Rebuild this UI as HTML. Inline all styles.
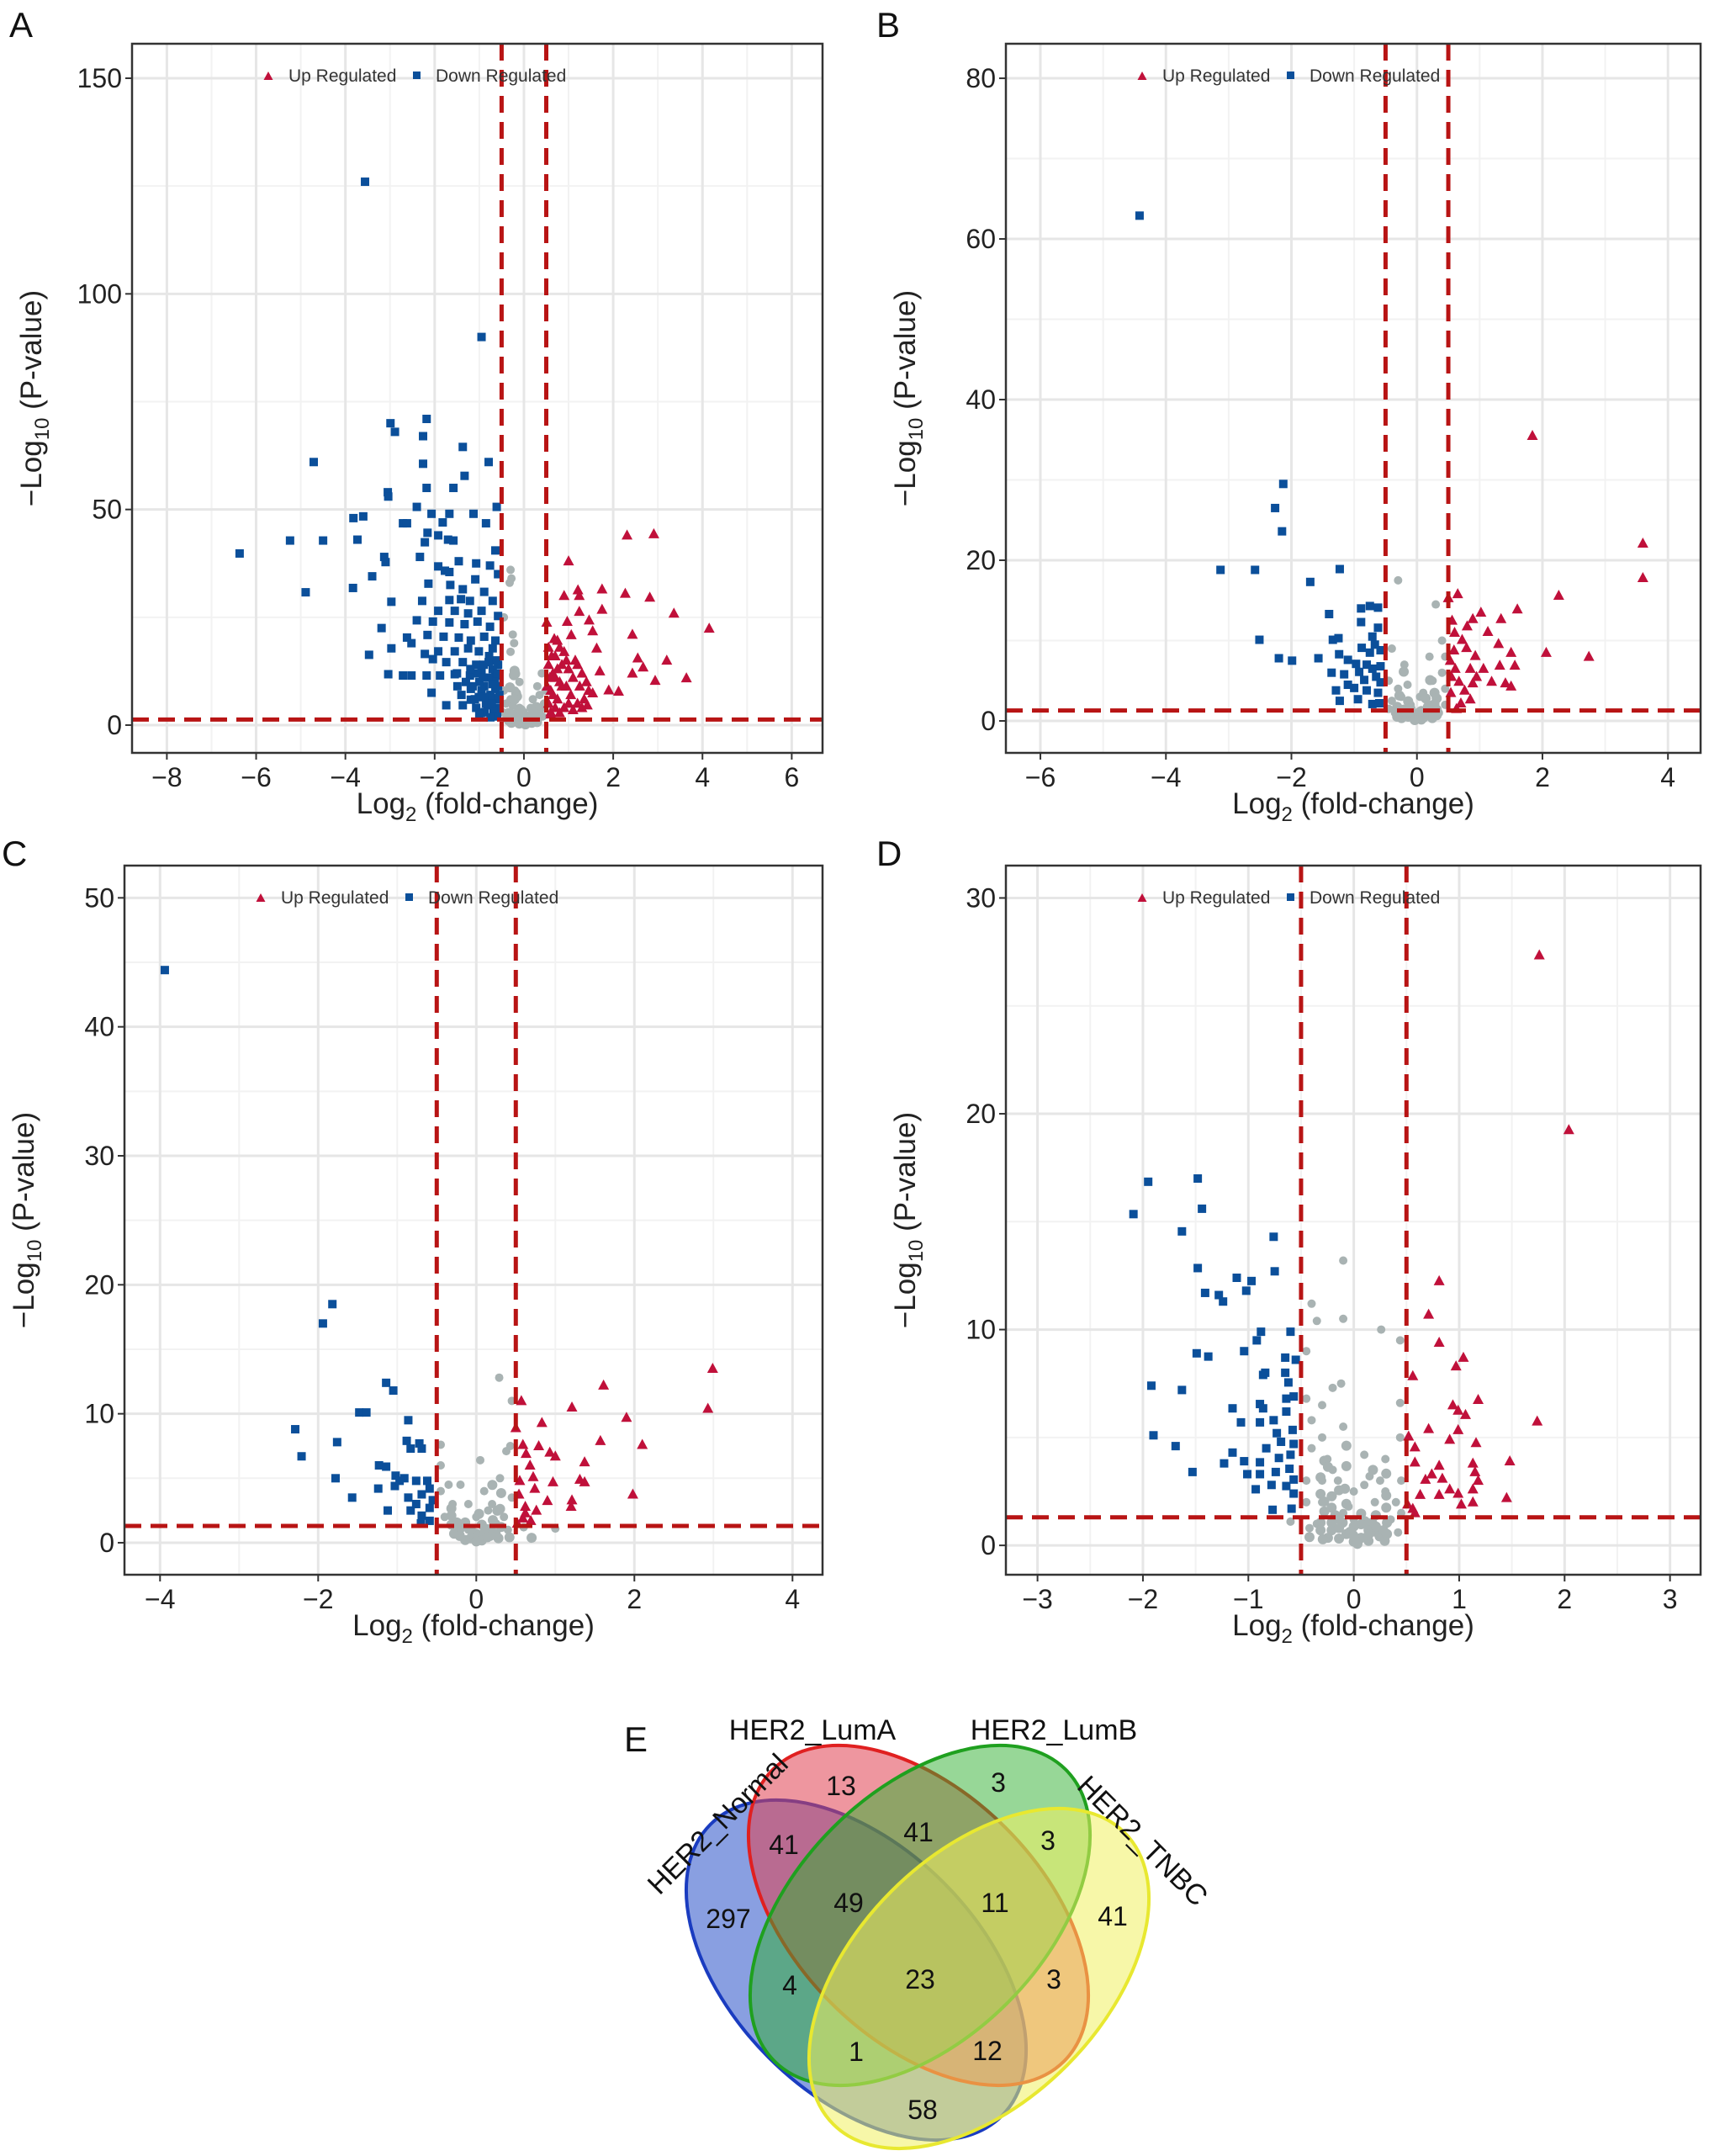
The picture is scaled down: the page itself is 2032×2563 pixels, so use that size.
<!DOCTYPE html>
<html><head><meta charset="utf-8"><style>
html,body{margin:0;padding:0;background:#fff}
svg{display:block;font-family:"Liberation Sans",Arial,sans-serif}
</style></head><body>
<svg id="fig" width="2032" height="2563" viewBox="0 0 2032 2563" xmlns="http://www.w3.org/2000/svg">
<rect width="2032" height="2563" fill="#fff"/>
<g id="venn">
  <text x="742" y="2082" font-size="42" fill="#111">E</text>
  <ellipse cx="1018" cy="2342" rx="245" ry="147" transform="rotate(45 1018 2342)" fill="#3a5fcd" fill-opacity="0.6" stroke="#1a3cc0" stroke-width="4"/>
  <ellipse cx="1092" cy="2277" rx="245" ry="147" transform="rotate(45 1092 2277)" fill="#e04050" fill-opacity="0.55" stroke="#e02020" stroke-width="4"/>
  <ellipse cx="1094" cy="2277" rx="245" ry="147" transform="rotate(-45 1094 2277)" fill="#30b030" fill-opacity="0.5" stroke="#1fa01f" stroke-width="4"/>
  <ellipse cx="1164" cy="2352" rx="245" ry="147" transform="rotate(-45 1164 2352)" fill="#f0f060" fill-opacity="0.55" stroke="#e8e830" stroke-width="4"/>
  <g font-size="34" fill="#111" text-anchor="middle">
    <text x="966" y="2068">HER2_LumA</text>
    <text x="1253" y="2068">HER2_LumB</text>
    <text x="853" y="2180" transform="rotate(-45 853 2168)">HER2_Normal</text>
    <text x="1359" y="2200" transform="rotate(45 1359 2188)">HER2_TNBC</text>
  </g>
  <g id="venn-counts" font-size="32" fill="#111" text-anchor="middle"></g>
</g>
</svg>
<script>
// ===== Data =====
const aUp=[[2.31,44],[2.91,44.3],[1,38],[1.75,31.5],[1.21,31.3],[0.9,30],[1.24,30],[2.27,30.5],[2.82,29.6],[3.36,25.9],[4.15,22.4],[1.24,26.3],[1.75,26.8],[0.51,23.8],[0.97,24],[1.46,24.3],[1.54,21.8],[2.43,21],[1.06,20.9],[0.75,19.6],[1.63,17.8],[2.55,15.5],[3.2,15],[2.43,12],[2.67,13.4],[2.94,10.3],[3.64,10.9],[1.9,8.1],[2.12,7.8],[1.42,4.6],[1.54,7.4],[1.7,12.5],[0.55,5],[0.6,8],[0.65,12],[0.7,16],[0.75,6],[0.8,10],[0.85,14],[0.9,4],[0.95,9],[1,13],[1.05,7],[1.1,11],[1.15,15],[1.2,5],[1.25,9],[1.3,12],[1.35,6],[1.4,10],[0.55,18],[0.6,3],[0.7,11],[0.8,18],[0.9,17],[1,5],[1.1,3.5],[1.2,14],[0.65,7],[0.75,13],[0.85,9],[0.95,15],[0.58,11],[1.45,8],[1.3,4],[0.55,14],[0.6,2.5],[0.7,4],[0.8,2.8],[0.52,9],[0.68,20],[0.62,16]];
const aDown=[[-3.56,126],[-0.95,90],[-2.99,70],[-2.89,68],[-2.18,71],[-2.26,67],[-4.71,61],[-1.37,64.5],[-0.79,61],[-2.26,60.6],[-1.33,57.8],[-2.18,55],[-1.58,55],[-3.05,54],[-3.04,53],[-0.61,50.6],[-2.4,50.6],[-2.07,49],[-1.67,49],[-1.13,49],[-3.82,48],[-3.6,48.4],[-2.71,46.8],[-2.62,46.8],[-1.82,47],[-0.85,46.8],[-3.73,43],[-5.24,42.8],[-4.5,42.8],[-2.22,42.4],[-1.7,43],[-1.58,42.8],[-2.16,44.6],[-1.92,44],[-6.37,39.8],[-0.64,40.5],[-3.13,39],[-3.1,37.8],[-2.33,39],[-1.46,38],[-1.07,37.5],[-0.76,37],[-1.92,36.8],[-1.77,35.8],[-1.67,35.5],[-1.09,33.8],[-0.58,35],[-3.4,34.5],[-3.83,31.8],[-4.89,30.8],[-2.14,32.8],[-1.65,32.5],[-1.37,31.5],[-0.89,30.9],[-2.97,28.6],[-2.28,28.8],[-1.67,29],[-1.41,29.2],[-1.21,28.8],[-0.7,28.8],[-1.92,26.5],[-1.55,26.5],[-1.25,25.9],[-0.95,26.5],[-0.58,25.3],[-2.4,24.3],[-2.04,24],[-1.67,23.8],[-1.33,23.4],[-1.04,24],[-0.76,22.8],[-3.19,22.5],[-2.62,20.3],[-2.16,20.9],[-1.8,20.5],[-1.46,20.3],[-1.19,19.6],[-0.89,20.5],[-0.64,19.6],[-2.97,17.8],[-2.52,19],[-2.22,16.5],[-1.92,17.1],[-1.55,17.1],[-1.25,17.8],[-1.01,17.1],[-0.7,17.8],[-3.47,16.3],[-2.04,15.3],[-1.74,14.6],[-1.37,14.6],[-1.07,14],[-0.79,14.6],[-0.58,14],[-3.04,11.8],[-2.71,11.5],[-2.52,11.5],[-2.18,11.5],[-1.88,11.5],[-1.55,11.8],[-1.21,11.5],[-0.95,12.1],[-0.64,11.5],[-2.07,7.5],[-1.49,9],[-1.19,8.4],[-0.89,9],[-0.64,8.4],[-1.01,6.5],[-0.73,6.3],[-1.74,4.6],[-1.37,4.6],[-1.07,4],[-0.82,4.6],[-0.58,4],[-0.95,2.8],[-0.64,2.5],[-1.19,5.9],[-0.6,6],[-0.65,10],[-0.7,13],[-0.75,7],[-0.8,11],[-0.85,5],[-0.9,14],[-0.95,8],[-1,10],[-1.05,12],[-1.1,6],[-1.15,9],[-0.62,15],[-0.68,3.5],[-0.72,5],[-0.78,16],[-0.88,3],[-0.92,11],[-0.58,9],[-0.6,12],[-1.3,10],[-1.4,7],[-1.5,12],[-1.2,13],[-0.6,2],[-0.75,1.8],[-0.9,6.5],[-1.0,2.5],[-0.55,7],[-0.7,9.5]];
const aNs=[[-0.3,36],[-0.32,33],[-0.28,34],[-0.45,25],[-0.25,21],[-0.22,19],[-0.3,17],[-0.1,10],[-0.2,8],[0.2,6],[0.4,12],[0.35,7],[-0.4,5],[-0.35,3],[-0.2,2],[0,1],[0.1,2],[0.3,3],[0.45,5],[-0.45,8],[-0.1,4],[0.15,4],[-0.3,6],[0.25,1.5],[-0.15,1],[0.05,0.5],[-0.05,2.5],[0.42,2],[-0.48,3],[0.48,8],[0.3,9],[-0.4,1.5],[0.4,4],[-0.25,4.5],[0.2,3.5],[0,3]];
const aXTicks=[-8,-6,-4,-2,0,2,4,6];
const aYTicks=[0,50,100,150];

const bUp=[[1.84,35.5],[3.6,22.1],[3.6,17.8],[2.26,15.6],[0.65,15.8],[0.5,15.3],[1.6,13.9],[1.02,13.5],[1.34,12.7],[0.89,12.7],[0.56,12.5],[1.13,11.1],[0.8,11.8],[2.06,8.5],[2.74,8],[1.3,9.6],[1.5,8.5],[0.79,9.1],[0.93,8.1],[0.59,8.8],[1.32,6.9],[1.56,6.9],[0.61,6.5],[0.85,6.5],[1.06,6.5],[1.19,4.9],[1.41,4.7],[1.5,4.3],[0.67,4.9],[0.89,4.7],[0.54,3.5],[0.76,3.8],[0.85,2.7],[0.63,1.5],[0.53,7.5],[0.72,10.1],[0.55,5.5],[0.7,2.2],[0.95,5.5],[0.6,11]];
const bDown=[[-4.42,62.9],[-2.13,29.5],[-2.26,26.5],[-2.15,23.6],[-3.13,18.8],[-2.58,18.8],[-1.23,18.9],[-1.7,17.3],[-1.4,13.3],[-0.89,14],[-0.75,14.3],[-0.62,14.1],[-0.89,12.3],[-0.62,11.6],[-2.51,10.1],[-1.34,10.1],[-1.25,10.3],[-0.71,10.5],[-2.2,7.8],[-1.99,7.5],[-1.57,7.8],[-1.24,8.3],[-1.1,7.6],[-0.88,9.1],[-0.75,8.5],[-0.58,8.8],[-1.36,6],[-1.16,5.8],[-0.92,6.1],[-0.71,6.5],[-0.58,6.8],[-1.29,3.8],[-1.23,2.5],[-1.0,4.1],[-0.8,3.8],[-0.62,3.5],[-0.94,2.7],[-0.71,2.1],[-0.58,4.8],[-0.84,5.1],[-0.97,7.1],[-0.67,9.5],[-1.1,4.5],[-0.6,2.2],[-0.8,7],[-0.65,5.5]];
const bNs=[[-0.3,17.5],[0.3,14.5],[0.4,10],[0.45,8],[-0.4,9],[0.2,8],[-0.2,7],[-0.45,5],[0.45,4],[-0.3,4],[0.3,3],[-0.1,2],[0,1],[0.1,0.5],[0.2,2],[-0.2,1.5],[-0.4,2.5],[0.4,6],[0.35,1],[-0.35,1],[0.05,3],[-0.05,0.3],[0.25,5],[-0.25,3],[0.15,1.2],[-0.45,1.5],[0.45,2],[-0.15,4.5],[0.1,3.5]];
const bXTicks=[-6,-4,-2,0,2,4];
const bYTicks=[0,20,40,60,80];

const cUp=[[2.99,13.5],[2.93,10.4],[1.61,12.2],[1.21,10.5],[1.9,9.7],[0.83,9.3],[0.57,11],[0.5,8.9],[1.57,7.9],[2.1,7.6],[0.79,7.5],[0.59,7.6],[0.63,6.9],[0.93,7],[1.0,6.7],[0.68,6],[1.37,6.25],[0.72,5.1],[0.55,4.8],[0.97,4.7],[1.31,4.9],[1.37,4.7],[0.74,4.2],[0.54,3.75],[0.9,3.25],[1.21,3.3],[1.2,2.8],[1.98,3.75],[0.62,2.8],[0.59,1.9],[0.69,1.7],[0.52,1.5],[0.76,2.5],[0.62,2.3]];
const cDown=[[-3.94,44.4],[-1.82,18.5],[-1.94,17],[-1.14,12.4],[-1.05,11.8],[-1.48,10.1],[-1.39,10.1],[-2.29,8.8],[-0.86,9.5],[-2.21,6.7],[-1.76,7.8],[-0.88,7.9],[-0.72,7.7],[-0.83,7.3],[-0.69,7.3],[-1.78,5],[-1.23,6],[-1.14,5.9],[-1.02,5.2],[-0.91,5],[-0.76,4.8],[-0.62,4.8],[-1.24,4.2],[-1.03,4.4],[-0.86,3.5],[-0.69,3.75],[-0.59,4.2],[-1.57,3.5],[-1.12,2.5],[-0.83,2.5],[-0.69,2.1],[-0.59,2.7],[-0.59,1.7],[-0.76,3],[-0.97,4.8],[-0.55,3.3],[-0.7,1.5]];
const cNs=[[0.29,12.8],[0.45,11],[-0.45,7.6],[-0.45,6],[0.05,6.4],[0.38,7.1],[0.43,7.5],[-0.2,4.5],[0.1,4],[0.3,5],[-0.3,3],[0.2,3],[0,2],[-0.1,1],[0.1,0.5],[0.35,2],[-0.4,2],[0.45,3.5],[-0.45,4],[0.6,1.2],[1.0,1.1],[0.25,1.5],[-0.2,0.6],[0.15,2.5],[-0.3,1.5],[0,0.3],[0.4,1],[-0.1,3],[0.2,1.2],[-0.35,4.5]];
const cXTicks=[-4,-2,0,2,4];
const cYTicks=[0,10,20,30,40,50];

const dUp=[[1.76,27.35],[2.04,19.25],[0.81,12.25],[0.71,10.7],[0.81,9.4],[1.04,8.7],[0.97,8.3],[0.56,7.85],[1.18,6.75],[0.94,6.5],[0.99,6.25],[1.06,6.05],[1.74,5.75],[0.71,5.4],[0.99,5.35],[0.52,5.05],[0.91,4.9],[0.58,4.55],[1.16,4.75],[0.58,3.85],[1.48,3.9],[1.13,3.8],[0.81,3.7],[0.74,3.3],[1.15,3.4],[0.68,3.05],[0.84,3.1],[1.18,3],[0.63,2.35],[0.91,2.6],[0.81,2.35],[0.99,2.4],[1.13,2.6],[1.45,2.2],[1.02,1.9],[1.13,2],[0.56,1.7],[0.51,1.9],[0.58,1.5]];
const dDown=[[-2.09,15.35],[-1.95,16.85],[-1.48,17],[-1.44,15.6],[-1.63,14.55],[-0.76,14.3],[-1.48,12.85],[-0.75,12.7],[-1.11,12.4],[-0.97,12.25],[-1.41,11.7],[-1.28,11.6],[-1.24,11.3],[-1.02,11.8],[-0.88,9.9],[-0.92,9.5],[-0.6,9.9],[-1.49,8.9],[-1.38,8.75],[-1.04,9],[-0.65,8.7],[-0.55,8.6],[-0.84,8],[-0.86,7.9],[-0.65,8],[-0.62,7.55],[-1.92,7.4],[-1.63,7.2],[-0.89,6.55],[-0.86,6.35],[-0.64,6.8],[-0.57,6.9],[-1.15,6.35],[-1.07,5.7],[-0.89,5.7],[-0.76,5.8],[-0.64,6.2],[-1.9,5.1],[-1.69,4.6],[-0.73,5.2],[-0.58,5.35],[-0.69,4.8],[-0.83,4.5],[-0.57,4.7],[-1.15,4.3],[-1.23,3.8],[-1.04,3.9],[-0.89,3.85],[-0.71,4.05],[-0.6,4.2],[-1.53,3.4],[-1.01,3.3],[-0.89,3.3],[-0.74,3.4],[-0.61,3.55],[-0.78,2.8],[-0.64,2.75],[-0.93,2.6],[-0.57,2.4],[-0.77,1.65],[-0.59,1.7],[-0.57,3.05]];
const dNs=[[-0.1,13.2],[-0.4,11.2],[-0.35,10.4],[-0.1,10.5],[0.26,10],[0.44,9.5],[-0.45,9],[-0.12,7.5],[-0.2,7.3],[-0.3,6.5],[-0.45,6.8],[-0.1,5.5],[0.44,6.6],[0.44,5],[-0.3,5],[-0.4,4.5],[0.1,4.2],[0.3,4],[-0.2,3.5],[-0.45,3],[0.25,3],[0.45,3],[0,2.5],[-0.3,2],[0.2,2],[-0.1,1.5],[0.1,1],[0,0.5],[-0.35,1],[0.35,1.2],[0.4,2],[-0.25,4],[-0.15,3],[0.15,3.2],[-0.05,1.8],[0.05,0.2],[0.42,0.6],[-0.42,0.8],[-0.6,1.1],[0.2,0.6],[-0.2,0.9],[-0.4,5.8],[-0.3,3],[0.3,2.5],[0.1,2.8],[-0.45,2],[0.45,1.5],[-0.2,2.3],[0.2,1.4],[0,1.2]];
const dXTicks=[-3,-2,-1,0,1,2,3];
const dYTicks=[0,10,20,30];

const vennCounts=[13,3,41,41,3,49,11,297,41,4,23,3,1,12,58];
const vennRegions=['luma-only','lumb-only','normal-luma','luma-lumb','lumb-tnbc','normal-luma-lumb','luma-lumb-tnbc','normal-only','tnbc-only','normal-lumb','all-four','luma-tnbc','normal-lumb-tnbc','normal-luma-tnbc','normal-tnbc'];
</script>
<script>
const NS='http://www.w3.org/2000/svg';
const fig=document.getElementById('fig');
function mk(tag,attrs,parent){const e=document.createElementNS(NS,tag);for(const k in attrs)e.setAttribute(k,attrs[k]);(parent||fig).appendChild(e);return e;}
function panel(letter,box,xr,yr,xt,yt,up,down,ns){
  const g=mk('g',{});
  
  
  const X=v=>box.l+(v-xr[0])/(xr[1]-xr[0])*(box.r-box.l);
  const Y=v=>box.b-(v-yr[0])/(yr[1]-yr[0])*(box.b-box.t);
  const clip='clip'+letter;
  const cp=mk('clipPath',{id:clip},g);mk('rect',{x:box.l,y:box.t,width:box.r-box.l,height:box.b-box.t},cp);
  const xs=xt[1]-xt[0], ys=yt[1]-yt[0];
  for(let i=-1;i<xt.length;i++){const v=xt[0]+xs*(i+0.5);const px=X(v);if(px>box.l&&px<box.r)mk('line',{x1:px,x2:px,y1:box.t,y2:box.b,stroke:'#f2f2f2','stroke-width':2},g);}
  for(let i=-1;i<yt.length;i++){const v=yt[0]+ys*(i+0.5);const py=Y(v);if(py>box.t&&py<box.b)mk('line',{x1:box.l,x2:box.r,y1:py,y2:py,stroke:'#f2f2f2','stroke-width':2},g);}
  xt.forEach(v=>{const px=X(v);
    const l=mk('line',{x1:px,x2:px,y1:box.t,y2:box.b,stroke:'#e6e6e6','stroke-width':3},g);
    
    mk('line',{x1:px,x2:px,y1:box.b,y2:box.b+8,stroke:'#333','stroke-width':2},g);
    const t=mk('text',{x:px,y:box.b+40,'font-size':32,'text-anchor':'middle',fill:'#222'},g);
    
    
    t.textContent=(v<0?'\u2212'+(-v):String(v));});
  yt.forEach(v=>{const py=Y(v);
    mk('line',{x1:box.l,x2:box.r,y1:py,y2:py,stroke:'#e6e6e6','stroke-width':3},g);
    mk('line',{x1:box.l-8,x2:box.l,y1:py,y2:py,stroke:'#333','stroke-width':2},g);
    const t=mk('text',{x:box.l-12,y:py+11,'font-size':32,'text-anchor':'end',fill:'#222'},g);
    
    
    t.textContent=String(v);});
  const pts=mk('g',{'clip-path':'url(#'+clip+')'},g);
  ns.forEach(p=>{const c=mk('circle',{cx:X(p[0]),cy:Y(p[1]),r:5,fill:'#a9b3b3'},pts);
    
    });
  ns.forEach(p=>{const c=mk('circle',{cx:X(p[0]*0.7),cy:Y(p[1]*0.35),r:6,fill:'#a9b3b3'},pts);
    
    });
  down.forEach(p=>{const x=X(p[0]),y=Y(p[1]);const r=mk('rect',{x:x-5,y:y-5,width:10,height:10,fill:'#0b4f9a'},pts);
    
    });
  up.forEach(p=>{const x=X(p[0]),y=Y(p[1]);const r=mk('polygon',{points:`${x},${y-7} ${x-6.5},${y+5} ${x+6.5},${y+5}`,fill:'#c0103a'},pts);
    
    });
  [-0.5,0.5].forEach(v=>{const l=mk('line',{x1:X(v),x2:X(v),y1:box.t,y2:box.b,stroke:'#b81414','stroke-width':5,'stroke-dasharray':'20 11'},pts);
    
    });
  const h=mk('line',{x1:box.l,x2:box.r,y1:Y(1.3),y2:Y(1.3),stroke:'#b81414','stroke-width':5,'stroke-dasharray':'20 11'},pts);
  
  
  const f=mk('rect',{x:box.l,y:box.t,width:box.r-box.l,height:box.b-box.t,fill:'none',stroke:'#333','stroke-width':2.5},g);
  
  
  const lg=mk('g',{},g);
  
  
  const ly=box.t+45, lx=box.l+162;
  mk('polygon',{points:`${lx},${ly-12} ${lx-5.5},${ly-2} ${lx+5.5},${ly-2}`,fill:'#c0103a'},lg);
  const t1=mk('text',{x:lx+24,y:ly,'font-size':21,fill:'#333'},lg);t1.textContent='Up Regulated';
  
  
  mk('rect',{x:lx+172,y:ly-12,width:9,height:9,fill:'#0b4f9a'},lg);
  const t2=mk('text',{x:lx+199,y:ly,'font-size':21,fill:'#333'},lg);t2.textContent='Down Regulated';
  
  
  const cx=(box.l+box.r)/2;
  const xtit=mk('text',{x:cx,y:box.b+72,'font-size':35,'text-anchor':'middle',fill:'#222'},g);
  
  
  xtit.innerHTML='Log<tspan font-size="24" dy="9">2</tspan><tspan dy="-9"> (fold-change)</tspan>';
  const cy=(box.t+box.b)/2, tx=box.l-108;
  const ytit=mk('text',{x:tx,y:cy,'font-size':35,'text-anchor':'middle',fill:'#222',transform:`rotate(-90 ${tx} ${cy})`},g);
  
  
  ytit.innerHTML='\u2212Log<tspan font-size="24" dy="9">10</tspan><tspan dy="-9"> (P-value)</tspan>';
  const pl=mk('text',{x:box.l-146+(letter==='B'||letter==='D'?-8:0),y:box.t-8+(letter==='C'||letter==='D'?8:0),'font-size':42,fill:'#111'},g);
  
  
  pl.textContent=letter;
}
panel('A',{l:157,r:978,t:52,b:895},[-8.78,6.69],[-6.44,158.0],aXTicks,aYTicks,aUp,aDown,aNs);
panel('B',{l:1196,r:2022,t:52,b:895},[-6.55,4.52],[-3.98,84.3],bXTicks,bYTicks,bUp,bDown,bNs);
panel('C',{l:148,r:978,t:1029,b:1872},[-4.45,4.38],[-2.48,52.5],cXTicks,cYTicks,cUp,cDown,cNs);
panel('D',{l:1196,r:2022,t:1029,b:1872},[-3.30,3.29],[-1.36,31.5],dXTicks,dYTicks,dUp,dDown,dNs);
const vpos=[[1000,2134],[1187,2130],[932,2204],[1092,2189],[1246,2199],[1009,2273],[1183,2273],[866,2292],[1323,2289],[939,2371],[1094,2364],[1253,2364],[1018,2450],[1174,2449],[1097,2519]];
const vg=document.getElementById('venn-counts');
vennCounts.forEach((c,i)=>{const t=document.createElementNS(NS,'text');t.setAttribute('x',vpos[i][0]);t.setAttribute('y',vpos[i][1]);t.textContent=c;
  
  
  vg.appendChild(t);});
</script>
</body></html>
